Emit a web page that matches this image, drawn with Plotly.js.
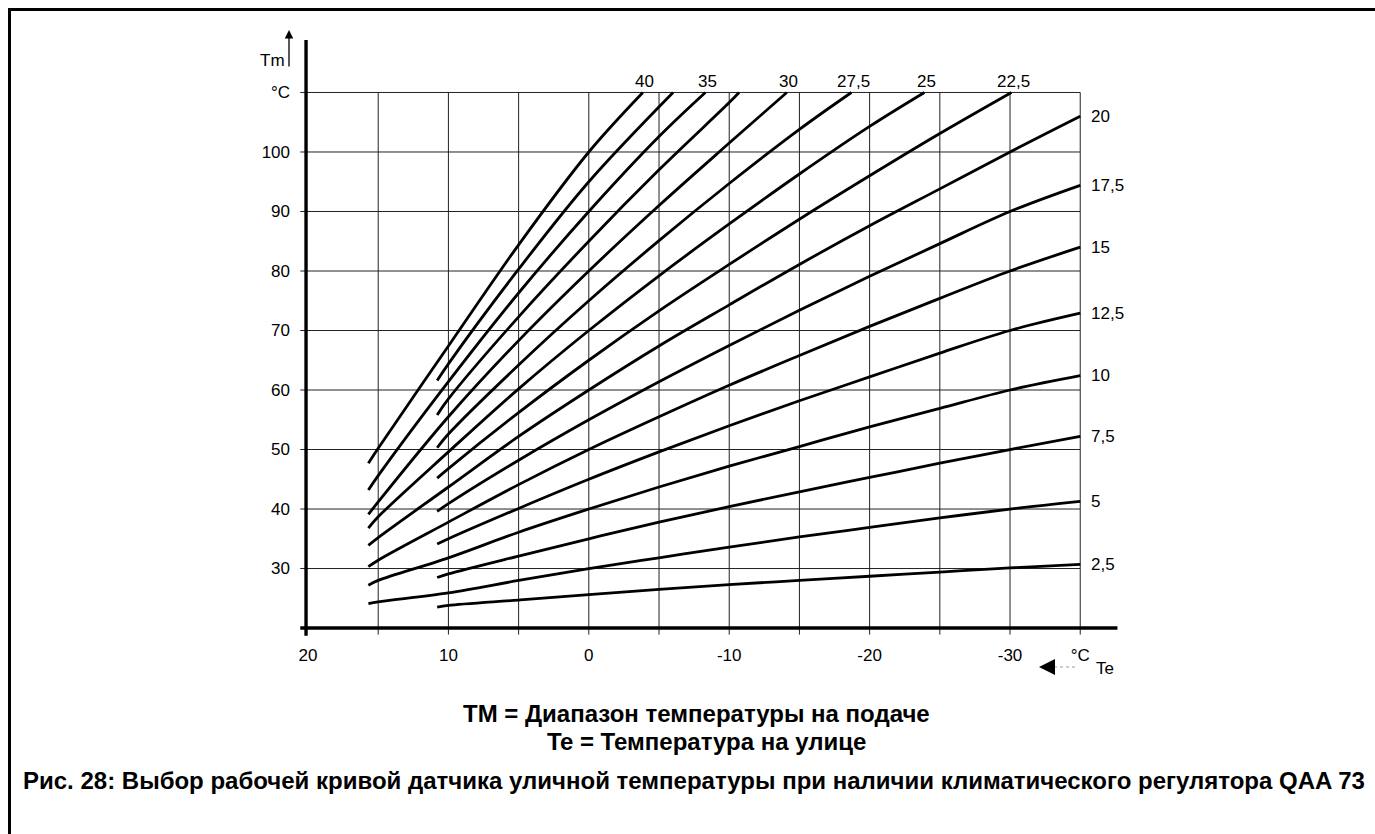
<!DOCTYPE html>
<html>
<head>
<meta charset="utf-8">
<script src="https://cdn.plot.ly/plotly-3.0.1.min.js"></script>
<style>
  html, body { margin: 0; padding: 0; background: #ffffff; }
  #chart { width: 1375px; height: 834px; }
</style>
</head>
<body>
<div id="chart"></div>
<script>
// ---- Data (Te = outdoor temp, Tm = flow temp) ----
const teLeft  = [15.7, 15, 10, 5, 0, -5, -10, -15, -20, -25, -30, -35];
const teRight = [10.8, 10, 5, 0, -5, -10, -15, -20, -25, -30, -35];

const te40  = [15.7, 15, 10, 5, 0, -3.85];
const tm40  = [47.7, 50.2, 67.4, 84.4, 100, 110];
const te375 = [10.8, 10, 5, 0, -6.0];
const tm375 = [61.6, 64.4, 80.3, 95, 110];
const te35  = [15.7, 15, 10, 5, 0, -5, -8.3];
const tm35  = [43.2, 45.6, 61.4, 76.3, 90, 102.6, 110];
const te325 = [10.8, 10, 5, 0, -5, -10, -10.7];
const tm325 = [55.8, 58.5, 72.3, 85, 97.0, 108.3, 110];
const te30  = [15.7, 15, 10, 5, 0, -5, -10, -14.1];
const tm30  = [39.1, 41.2, 55.5, 68.3, 80, 91.0, 101.5, 110];
const te275 = [10.8, 10, 5, 0, -5, -10, -15, -18.7];
const tm275 = [50.3, 52.6, 64.2, 75, 85.1, 94.7, 103.8, 110];
const te25  = [15.7, 15, 10, 5, 0, -5, -10, -15, -20, -23.9];
const tm25  = [36.8, 38.7, 49.6, 60.2, 70, 79.2, 87.9, 96.3, 104.3, 110];
const te225 = [10.8, 10, 5, 0, -5, -10, -15, -20, -25, -30.1];
const tm225 = [45.2, 46.8, 56.2, 65, 73.3, 81.1, 88.7, 96.0, 103.1, 110];
const tm20  = [33.9, 35.2, 43.7, 52.2, 60, 67.4, 74.3, 81.1, 87.6, 93.8, 100, 106.0];
const tm175 = [39.6, 40.9, 48.2, 55, 61.4, 67.5, 73.4, 79.1, 84.6, 90, 94.4];
const tm15  = [30.3, 31.4, 37.8, 44.1, 50, 55.5, 60.8, 65.8, 70.7, 75.4, 80, 84.0];
const tm125 = [34.1, 35.0, 40.1, 45, 49.6, 54.0, 58.2, 62.2, 66.2, 70, 72.9];
const tm10  = [27.2, 28.0, 31.8, 36.1, 40, 43.7, 47.2, 50.5, 53.8, 56.9, 60, 62.4];
const tm75  = [28.5, 29.1, 32.1, 35, 37.8, 40.4, 42.9, 45.3, 47.7, 50, 52.2];
const tm5   = [24.1, 24.4, 25.9, 28.0, 30, 31.8, 33.6, 35.3, 36.9, 38.5, 40, 41.3];
const tm25s = [23.5, 23.8, 24.7, 25.6, 26.5, 27.3, 28.0, 28.7, 29.4, 30.1, 30.7];

const curves = [
  {name: "40",   te: te40,    tm: tm40,   label: "top"},
  {name: "37,5", te: te375,   tm: tm375,  label: ""},
  {name: "35",   te: te35,    tm: tm35,   label: "top"},
  {name: "32,5", te: te325,   tm: tm325,  label: ""},
  {name: "30",   te: te30,    tm: tm30,   label: "top"},
  {name: "27,5", te: te275,   tm: tm275,  label: "top"},
  {name: "25",   te: te25,    tm: tm25,   label: "top"},
  {name: "22,5", te: te225,   tm: tm225,  label: "top"},
  {name: "20",   te: teLeft,  tm: tm20,   label: "right"},
  {name: "17,5", te: teRight, tm: tm175,  label: "right"},
  {name: "15",   te: teLeft,  tm: tm15,   label: "right"},
  {name: "12,5", te: teRight, tm: tm125,  label: "right"},
  {name: "10",   te: teLeft,  tm: tm10,   label: "right"},
  {name: "7,5",  te: teRight, tm: tm75,   label: "right"},
  {name: "5",    te: teLeft,  tm: tm5,    label: "right"},
  {name: "2,5",  te: teRight, tm: tm25s,  label: "right"}
];

const xTickVals = [20, 10, 0, -10, -20, -30, -35];
const xTickText = ["20", "10", "0", "-10", "-20", "-30", "°C"];
const yTickVals = [30, 40, 50, 60, 70, 80, 90, 100, 110];
const yTickText = ["30", "40", "50", "60", "70", "80", "90", "100", "°C"];
const xGrid = [15, 10, 5, 0, -5, -10, -15, -20, -25, -30, -35];
const yGrid = [30, 40, 50, 60, 70, 80, 90, 100, 110];

// ---- Layout geometry ----
const W = 1375, H = 834;
const M = {l: 300, r: 257, t: 30, b: 198};
const PW = W - M.l - M.r, PH = H - M.t - M.b;
const xp = px => (px - M.l) / PW;        // pixel -> paper x
const yp = py => (H - M.b - py) / PH;    // pixel -> paper y
const FONT = "Liberation Sans, Arial, Helvetica, sans-serif";

const traces = curves.map(c => ({
  type: "scatter", mode: "lines",
  x: c.te, y: c.tm,
  line: {color: "#000", width: 2.8, shape: "spline", smoothing: 1},
  hoverinfo: "skip", showlegend: false, cliponaxis: false
}));

const shapes = [];
yGrid.forEach(v => shapes.push({type: "line", xref: "x", yref: "y", layer: "below",
  x0: 20.55, x1: -35, y0: v, y1: v, line: {color: "#222", width: 1}}));
xGrid.forEach(v => shapes.push({type: "line", xref: "x", yref: "y", layer: "below",
  x0: v, x1: v, y0: 18.9, y1: 110, line: {color: "#222", width: 1}}));
// axis lines
shapes.push({type: "line", xref: "x", yref: "y", x0: 20.14, x1: 20.14, y0: 18.7, y1: 118.8,
  line: {color: "#000", width: 3.4}});
shapes.push({type: "line", xref: "x", yref: "y", x0: 20.55, x1: -37.65, y0: 20, y1: 20,
  line: {color: "#000", width: 3.4}});
// frame
shapes.push({type: "rect", xref: "paper", yref: "paper",
  x0: xp(9.5), x1: xp(1400), y0: yp(9.5), y1: yp(860),
  line: {color: "#000", width: 3}, fillcolor: "rgba(0,0,0,0)"});
// dotted line of Te arrow
shapes.push({type: "line", xref: "paper", yref: "paper",
  x0: xp(1054), x1: xp(1076), y0: yp(667), y1: yp(667),
  line: {color: "#999", width: 1, dash: "dot"}});

const annotations = [];
curves.forEach(c => {
  const n = c.te.length;
  if (c.label === "top") {
    annotations.push({x: c.te[n - 1], y: 110, xref: "x", yref: "y", text: c.name,
      showarrow: false, xanchor: "center", yanchor: "bottom", yshift: -1, xshift: 2,
      font: {family: FONT, size: 17, color: "#000"}});
  } else if (c.label === "right") {
    annotations.push({x: c.te[n - 1], y: c.tm[n - 1], xref: "x", yref: "y", text: c.name,
      showarrow: false, xanchor: "left", yanchor: "middle", xshift: 9,
      font: {family: FONT, size: 17, color: "#000"}});
  }
});
// Tm axis name + arrow
annotations.push({x: xp(272), y: yp(60), xref: "paper", yref: "paper", text: "Tm",
  showarrow: false, xanchor: "center", yanchor: "middle",
  font: {family: FONT, size: 17, color: "#000"}});
annotations.push({x: xp(289), y: yp(30), xref: "paper", yref: "paper", text: "",
  showarrow: true, ax: 0, ay: 38, axref: "pixel", ayref: "pixel",
  arrowhead: 2, arrowsize: 1.3, arrowwidth: 1.3, arrowcolor: "#000"});
// Te axis name + arrow
annotations.push({x: xp(1105), y: yp(668), xref: "paper", yref: "paper", text: "Te",
  showarrow: false, xanchor: "center", yanchor: "middle",
  font: {family: FONT, size: 17, color: "#000"}});
annotations.push({x: xp(1039), y: yp(667), xref: "paper", yref: "paper", text: "",
  showarrow: true, ax: 14, ay: 0, axref: "pixel", ayref: "pixel",
  arrowhead: 2, arrowsize: 1.6, arrowwidth: 2, arrowcolor: "#000"});
// Legend texts under the chart
annotations.push({x: xp(696), y: yp(713), xref: "paper", yref: "paper",
  text: "<b>TM = Диапазон температуры на подаче</b>", showarrow: false,
  xanchor: "center", yanchor: "middle", font: {family: FONT, size: 24, color: "#000"}});
annotations.push({x: xp(706), y: yp(741), xref: "paper", yref: "paper",
  text: "<b>Te = Температура на улице</b>", showarrow: false,
  xanchor: "center", yanchor: "middle", font: {family: FONT, size: 24, color: "#000"}});
annotations.push({x: xp(21), y: yp(780), xref: "paper", yref: "paper",
  text: "<b>Рис. 28: Выбор рабочей кривой датчика уличной температуры при наличии климатического регулятора QAA 73</b>",
  showarrow: false, xanchor: "left", yanchor: "middle",
  font: {family: FONT, size: 24, color: "#000"}});

const layout = {
  width: W, height: H,
  margin: M,
  paper_bgcolor: "#fff", plot_bgcolor: "#fff",
  showlegend: false,
  font: {family: FONT, size: 17, color: "#000"},
  xaxis: {range: [20.57, -37.69], tickvals: xTickVals, ticktext: xTickText,
    showgrid: false, zeroline: false, showline: false, ticks: "",
    ticklabelstandoff: 7, tickfont: {family: FONT, size: 17, color: "#000"}, fixedrange: true},
  yaxis: {range: [18.66, 120.5], tickvals: yTickVals, ticktext: yTickText,
    showgrid: false, zeroline: false, showline: false, ticks: "",
    ticklabelstandoff: 9, tickfont: {family: FONT, size: 17, color: "#000"}, fixedrange: true},
  shapes: shapes,
  annotations: annotations
};

Plotly.newPlot("chart", traces, layout, {displayModeBar: false, staticPlot: true});
</script>
</body>
</html>
